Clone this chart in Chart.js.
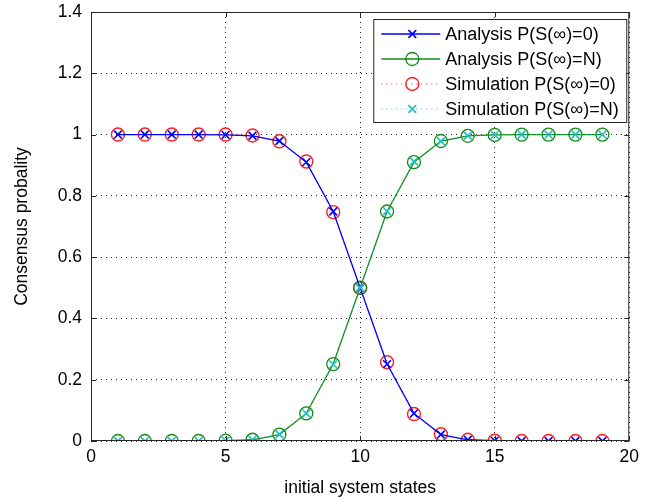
<!DOCTYPE html>
<html>
<head>
<meta charset="utf-8">
<script src="https://cdn.jsdelivr.net/npm/chart.js@4"></script>
<style>
  html, body { margin: 0; padding: 0; background: #fff; }
  #box { width: 645px; height: 502px; }
</style>
</head>
<body>
<div id="box"><canvas id="Chart"></canvas></div>
<script>
// initial states and consensus probabilities
const states = [1, 2, 3, 4, 5, 6, 7, 8, 9, 10, 11, 12, 13, 14, 15, 16, 17, 18, 19];
const anaZero = [1, 1, 1, 1, 0.999, 0.996, 0.979, 0.91, 0.749, 0.5, 0.251, 0.09, 0.021, 0.004, 0.001, 0, 0, 0, 0];
const anaN = [0, 0, 0, 0, 0.001, 0.004, 0.021, 0.09, 0.251, 0.5, 0.749, 0.91, 0.979, 0.996, 0.999, 1, 1, 1, 1];
const simZero = [1, 1, 1, 1, 1, 0.997, 0.978, 0.912, 0.747, 0.5, 0.257, 0.088, 0.022, 0.004, 0.001, 0, 0, 0, 0];
const simN = [0, 0, 0, 0, 0.001, 0.004, 0.022, 0.09, 0.25, 0.5, 0.75, 0.912, 0.978, 0.996, 0.999, 1, 1, 1, 1];
const labels = ["Analysis P(S(\u221E)=0)", "Analysis P(S(\u221E)=N)", "Simulation P(S(\u221E)=0)", "Simulation P(S(\u221E)=N)"];
const xTicks = [0, 5, 10, 15, 20];
const yTicks = [0, 0.2, 0.4, 0.6, 0.8, 1, 1.2, 1.4];

const FONT = "Liberation Sans, Arial, sans-serif";
const FSIZE = 17.5;

function pts(vals) {
  return states.map((s, i) => ({x: s, y: vals[i]}));
}

// box round the axes plus inward tick marks
const framePlugin = {
  id: "frame",
  afterDatasetsDraw(chart) {
    const {ctx, chartArea: a, scales} = chart;
    ctx.save();
    ctx.strokeStyle = "#262626";
    ctx.lineWidth = 1;
    ctx.beginPath();
    ctx.rect(a.left + 0.5, a.top + 0.5, a.right - a.left - 1, a.bottom - a.top - 1);
    xTicks.forEach(v => {
      const x = Math.round(scales.x.getPixelForValue(v)) + 0.5;
      ctx.moveTo(x, a.bottom); ctx.lineTo(x, a.bottom - 5);
      ctx.moveTo(x, a.top); ctx.lineTo(x, a.top + 5);
    });
    yTicks.forEach(v => {
      const y = Math.round(scales.y.getPixelForValue(v)) + 0.5;
      ctx.moveTo(a.left, y); ctx.lineTo(a.left + 5, y);
      ctx.moveTo(a.right, y); ctx.lineTo(a.right - 5, y);
    });
    ctx.stroke();
    ctx.restore();
  }
};

// legend drawn inside the plot, top right
const legendPlugin = {
  id: "boxLegend",
  afterDraw(chart) {
    const {ctx, chartArea: a} = chart;
    const ds = chart.data.datasets;
    const w = 253, rowH = 25;
    const left = a.right - w - 3, top = a.top + 7;
    const h = rowH * ds.length + 3;
    ctx.save();
    ctx.fillStyle = "#fff";
    ctx.fillRect(left, top, w, h);
    ctx.strokeStyle = "#262626";
    ctx.lineWidth = 1;
    ctx.strokeRect(left + 0.5, top + 0.5, w, h);
    ctx.font = "18px " + FONT;
    ctx.textBaseline = "middle";
    ds.forEach((d, i) => {
      const y = top + 15 + i * rowH;
      ctx.strokeStyle = d.borderColor;
      ctx.lineWidth = d.borderWidth;
      ctx.setLineDash(d.borderDash || []);
      ctx.beginPath();
      ctx.moveTo(left + 8, y); ctx.lineTo(left + 67, y);
      ctx.stroke();
      ctx.setLineDash([]);
      ctx.strokeStyle = d.pointBorderColor;
      ctx.fillStyle = "rgba(0,0,0,0)";
      ctx.lineWidth = d.pointBorderWidth;
      Chart.helpers.drawPoint(ctx, {
        pointStyle: d.pointStyle, radius: d.pointRadius, borderWidth: d.pointBorderWidth
      }, left + 39, y);
      ctx.fillStyle = "#000";
      ctx.fillText(d.label, left + 72, y + 1);
    });
    ctx.restore();
  }
};

const grid = {
  color: "#222",
  lineWidth: 1,
  drawTicks: false
};

new Chart("Chart", {
  type: "line",
  data: {
    datasets: [
      {label: labels[0], data: pts(anaZero), borderColor: "#0000ff", borderWidth: 1.3,
       pointStyle: "crossRot", pointRadius: 5.5, pointBorderWidth: 1.6, pointBorderColor: "#0000ff",
       backgroundColor: "transparent", order: 1},
      {label: labels[1], data: pts(anaN), borderColor: "#138a13", borderWidth: 1.3,
       pointStyle: "circle", pointRadius: 6.5, pointBorderWidth: 1.3, pointBorderColor: "#138a13",
       backgroundColor: "transparent", order: 2},
      {label: labels[2], data: pts(simZero), borderColor: "#ff2020", borderWidth: 1, borderDash: [1, 4],
       pointStyle: "circle", pointRadius: 6.5, pointBorderWidth: 1.4, pointBorderColor: "#ff2020",
       backgroundColor: "transparent", order: 3},
      {label: labels[3], data: pts(simN), borderColor: "#1cc0c0", borderWidth: 1, borderDash: [1, 4],
       pointStyle: "crossRot", pointRadius: 5.5, pointBorderWidth: 1.6, pointBorderColor: "#1cc0c0",
       backgroundColor: "transparent", order: 0}
    ]
  },
  options: {
    responsive: true,
    maintainAspectRatio: false,
    animation: false,
    events: [],
    layout: {padding: {left: 0, top: 12, right: 15, bottom: 0}},
    plugins: {legend: {display: false}, tooltip: {enabled: false}},
    elements: {line: {tension: 0}},
    scales: {
      x: {
        type: "linear", min: 0, max: 20,
        border: {display: false, dash: [1, 4]},
        grid: grid,
        afterBuildTicks: s => { s.ticks = xTicks.map(v => ({value: v})); },
        afterFit: s => { s.height = 61; },
        ticks: {color: "#000", font: {family: FONT, size: FSIZE}, padding: 6, maxRotation: 0,
                callback: v => String(v)},
        title: {display: true, text: "initial system states", color: "#000",
                font: {family: FONT, size: FSIZE}, padding: {top: 0, bottom: 3}}
      },
      y: {
        type: "linear", min: 0, max: 1.4,
        border: {display: false, dash: [1, 4]},
        grid: grid,
        afterBuildTicks: s => { s.ticks = yTicks.map(v => ({value: v})); },
        afterFit: s => { s.width = 91; s.paddingTop = 0; s.paddingBottom = 0; },
        ticks: {color: "#000", font: {family: FONT, size: FSIZE}, padding: 9,
                callback: v => String(Math.round(v * 10) / 10)},
        title: {display: true, text: "Consensus probality", color: "#000",
                font: {family: FONT, size: FSIZE}, padding: {top: 12, bottom: 0}}
      }
    }
  },
  plugins: [framePlugin, legendPlugin]
});
</script>
</body>
</html>
